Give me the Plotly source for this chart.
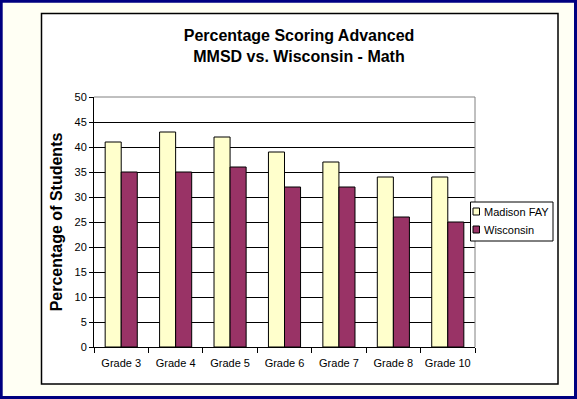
import plotly.graph_objects as go

grades = ["Grade 3", "Grade 4", "Grade 5", "Grade 6", "Grade 7", "Grade 8", "Grade 10"]
madison_fay = [41, 43, 42, 39, 37, 34, 34]
wisconsin = [35, 35, 36, 32, 32, 26, 25]
y_ticks = [0, 5, 10, 15, 20, 25, 30, 35, 40, 45, 50]
series_names = ["Madison FAY", "Wisconsin"]
series_colors = ["#FFFFCC", "#993366"]

W, H = 577, 399
L, R, T, B = 94, 102, 97, 52
pw, ph = W - L - R, H - T - B

def px(x):
    return (x - L) / pw

def py(y):
    return (H - B - y) / ph

font = "Liberation Sans, Arial, sans-serif"

fig = go.Figure()
for name, vals, col in zip(series_names, [madison_fay, wisconsin], series_colors):
    fig.add_trace(go.Bar(x=grades, y=vals, name=name,
                         marker=dict(color=col, line=dict(color="black", width=1))))

shapes = [
    # outer navy frame
    dict(type="rect", xref="paper", yref="paper", x0=px(1.2), x1=px(575.5), y0=py(1.2), y1=py(397.5),
         line=dict(color="#000080", width=3), fillcolor="rgba(0,0,0,0)", layer="below"),
    # inner white chart box
    dict(type="rect", xref="paper", yref="paper", x0=px(41.5), x1=px(558), y0=py(13.5), y1=py(384),
         line=dict(color="black", width=1.5), fillcolor="white", layer="below"),
    # gray top and right plot border
    dict(type="line", xref="paper", yref="paper", x0=0, x1=1, y0=1, y1=1,
         line=dict(color="#808080", width=1), layer="above"),
    dict(type="line", xref="paper", yref="paper", x0=1, x1=1, y0=0, y1=1,
         line=dict(color="#808080", width=1), layer="above"),
    # legend box
    dict(type="rect", xref="paper", yref="paper", x0=px(470.5), x1=px(553), y0=py(202), y1=py(241),
         line=dict(color="black", width=1), fillcolor="white", layer="above"),
]
annotations = []
legend_rows = [211.5, 229.5]
for name, col, yc in zip(series_names, series_colors, legend_rows):
    shapes.append(dict(type="rect", xref="paper", yref="paper",
                       x0=px(473), x1=px(479.5), y0=py(yc - 3.5), y1=py(yc + 3.5),
                       line=dict(color="black", width=1), fillcolor=col, layer="above"))
    annotations.append(dict(text=name, xref="paper", yref="paper", x=px(482), y=py(yc),
                            xanchor="left", yanchor="middle", showarrow=False,
                            font=dict(family=font, size=11, color="black")))

fig.update_layout(
    width=W, height=H,
    margin=dict(l=L, r=R, t=T, b=B, autoexpand=False),
    paper_bgcolor="#FFFFF4",
    plot_bgcolor="white",
    barmode="group",
    bargap=0.41,
    bargroupgap=0,
    font=dict(family=font, size=11, color="black"),
    title=dict(text="<b>Percentage Scoring Advanced<br>MMSD vs. Wisconsin - Math</b>",
               font=dict(family=font, size=16, color="black"),
               x=299 / W, xanchor="center", xref="container",
               y=1 - 41 / H, yanchor="top", yref="container"),
    showlegend=False,
    shapes=shapes,
    annotations=annotations,
    xaxis=dict(showline=True, linecolor="black", linewidth=1,
               ticks="outside", tickson="boundaries", ticklen=5, tickcolor="black",
               tickangle=0, ticklabelstandoff=6,
               tickfont=dict(family=font, size=11, color="black"),
               showgrid=False, fixedrange=True),
    yaxis=dict(range=[0, 50], tickvals=y_ticks, showline=True, linecolor="black", linewidth=1,
               ticks="outside", ticklen=4, tickcolor="black",
               tickfont=dict(family=font, size=11, color="black"),
               showgrid=True, gridcolor="black", gridwidth=1, zeroline=False,
               title=dict(text="<b>Percentage of Students</b>", font=dict(family=font, size=16, color="black"),
                          standoff=7),
               automargin=False),
)

fig.write_html("out.html", config={"displayModeBar": False},
               post_script="document.body.style.margin='0';document.body.style.overflow='hidden';")
